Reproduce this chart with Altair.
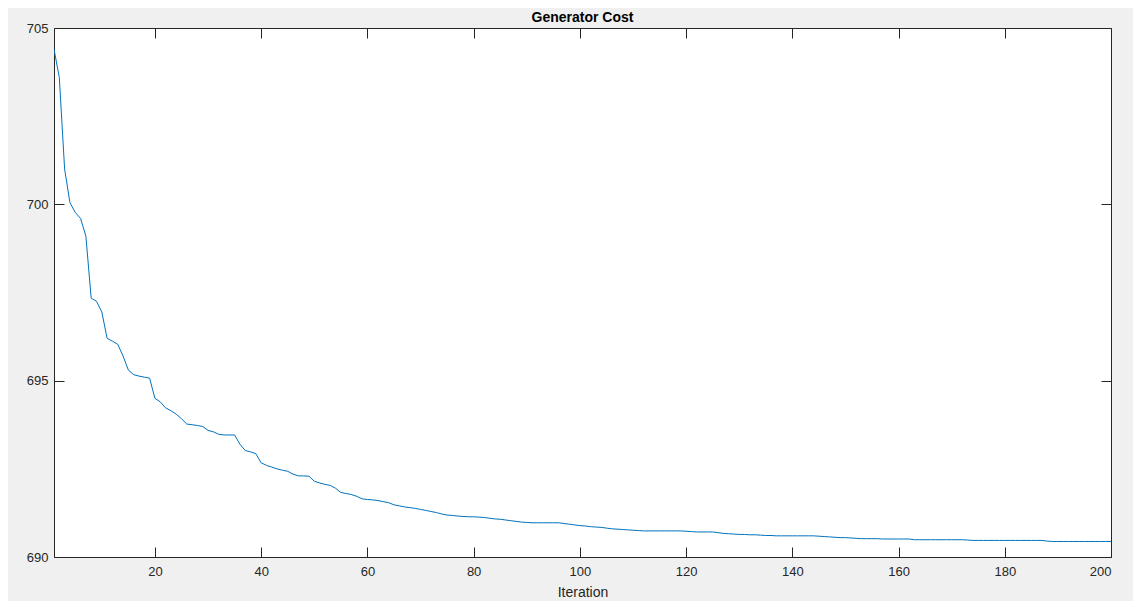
import altair as alt
import pandas as pd

iterations = list(range(1, 201))
cost = [
    704.4, 703.6, 701.0, 700.05, 699.77, 699.6, 699.1, 697.34, 697.25, 696.95,
    696.2, 696.12, 696.03, 695.7, 695.3, 695.17, 695.13, 695.1, 695.07, 694.5,
    694.4, 694.23, 694.15, 694.05, 693.92, 693.77, 693.75, 693.73, 693.7, 693.59,
    693.55, 693.48, 693.46, 693.46, 693.46, 693.2, 693.02, 692.98, 692.93, 692.67,
    692.6, 692.55, 692.5, 692.46, 692.43, 692.35, 692.3, 692.3, 692.29, 692.15,
    692.1, 692.06, 692.03, 691.95, 691.83, 691.8, 691.77, 691.72, 691.65, 691.63,
    691.62, 691.6, 691.57, 691.54, 691.48, 691.45, 691.42, 691.4, 691.38, 691.35,
    691.32, 691.29, 691.26, 691.22, 691.19, 691.18, 691.16, 691.15, 691.14, 691.14,
    691.13, 691.12, 691.1, 691.08, 691.07, 691.05, 691.03, 691.01, 690.99, 690.98,
    690.97, 690.97, 690.97, 690.97, 690.97, 690.97, 690.95, 690.93, 690.91, 690.89,
    690.88, 690.86, 690.85, 690.84, 690.82, 690.8, 690.79, 690.78, 690.77, 690.76,
    690.75, 690.74, 690.74, 690.74, 690.74, 690.74, 690.74, 690.74, 690.74, 690.73,
    690.72, 690.71, 690.71, 690.71, 690.71, 690.69, 690.67, 690.66, 690.65, 690.64,
    690.64, 690.63, 690.63, 690.62, 690.61, 690.61, 690.6, 690.6, 690.6, 690.6,
    690.6, 690.6, 690.6, 690.6, 690.59, 690.58, 690.57, 690.56, 690.55, 690.55,
    690.54, 690.53, 690.52, 690.52, 690.52, 690.52, 690.51, 690.51, 690.51, 690.51,
    690.51, 690.51, 690.49, 690.49, 690.49, 690.49, 690.49, 690.49, 690.49, 690.49,
    690.49, 690.49, 690.48, 690.47, 690.47, 690.47, 690.47, 690.47, 690.47, 690.47,
    690.47, 690.47, 690.47, 690.47, 690.47, 690.47, 690.47, 690.45, 690.44, 690.44,
    690.44, 690.44, 690.44, 690.44, 690.44, 690.44, 690.44, 690.44, 690.44, 690.44,
]
x_ticks = [20, 40, 60, 80, 100, 120, 140, 160, 180, 200]
y_ticks = [690, 695, 700, 705]

df = pd.DataFrame({"Iteration": iterations, "Cost": cost})

W, H = 1057, 529
FONT = "Liberation Sans"
TXT = "#262626"

xs = alt.Scale(domain=[1, 200], nice=False, zero=False)
ys = alt.Scale(domain=[690, 705], nice=False, zero=False)

base = alt.Chart(df)

main = base.mark_line(color="#0072BD", strokeWidth=1, clip=True).encode(
    x=alt.X("Iteration:Q", scale=xs, axis=alt.Axis(
        orient="bottom", values=x_ticks, tickSize=0, domain=False, grid=False,
        labelFont=FONT, labelFontSize=13, labelColor=TXT, labelPadding=8,
        title="Iteration", titleFont=FONT, titleFontSize=14, titleFontWeight="normal",
        titleColor=TXT, titlePadding=7)),
    y=alt.Y("Cost:Q", scale=ys, axis=alt.Axis(
        orient="left", values=y_ticks, tickSize=0, domain=False, grid=False,
        labelFont=FONT, labelFontSize=13, labelColor=TXT, labelPadding=6,
        title=None)),
)

tick_common = dict(labels=False, domain=False, grid=False, tickSize=10,
                   tickColor=TXT, tickWidth=1, title=None)

inner1 = base.mark_line(strokeOpacity=0).encode(
    x=alt.X("Iteration:Q", scale=xs, axis=alt.Axis(orient="top", offset=-H, values=x_ticks, **tick_common)),
    y=alt.Y("Cost:Q", scale=ys, axis=alt.Axis(orient="right", offset=-W, values=y_ticks, **tick_common)),
)
inner2 = base.mark_line(strokeOpacity=0).encode(
    x=alt.X("Iteration:Q", scale=xs, axis=alt.Axis(orient="bottom", offset=-H, values=x_ticks, **tick_common)),
    y=alt.Y("Cost:Q", scale=ys, axis=alt.Axis(orient="left", offset=-W, values=y_ticks, **tick_common)),
)

chart = alt.layer(main, inner1, inner2).resolve_axis(
    x="independent", y="independent"
).properties(
    width=W, height=H,
    background="#f0f0f0",
    padding={"left": 46, "top": 20, "right": 22, "bottom": 44},
    autosize=alt.AutoSizeParams(type="none"),
    title=alt.TitleParams("Generator Cost", font=FONT, fontSize=14, fontWeight="bold",
                          color="#000000", anchor="middle", offset=6, dy=9),
).configure_view(
    fill="white", stroke=TXT, strokeWidth=1
)

chart.save("out.html", embed_options={"renderer": "svg", "actions": False})
